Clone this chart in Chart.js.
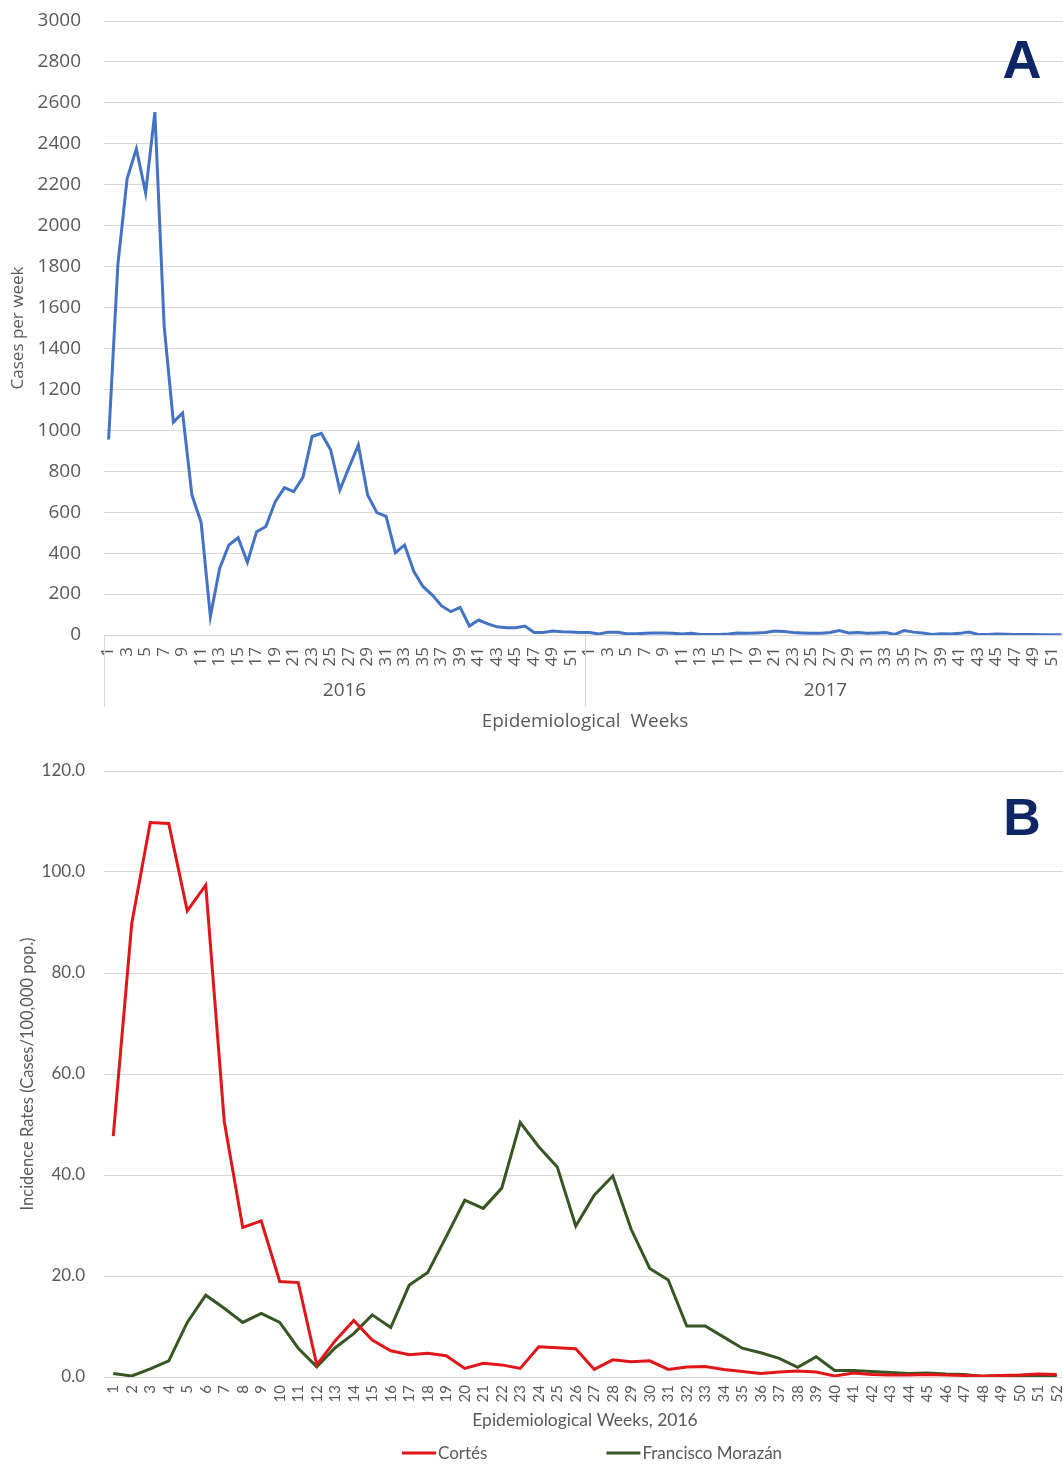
<!DOCTYPE html>
<html>
<head>
<meta charset="utf-8">
<title>Weekly cases and incidence rates</title>
<script src="https://cdn.jsdelivr.net/npm/chart.js@4.4.1/dist/chart.umd.min.js"></script>
<style>
  html, body { margin: 0; padding: 0; background: #ffffff; overflow: hidden; }
  #wrap { width: 1063px; height: 1464px; overflow: hidden; position: relative; }
  canvas { display: block; }
</style>
</head>
<body>
<div id="wrap">
  <canvas id="chartA" width="1090" height="740"></canvas>
  <canvas id="chartB" width="1090" height="724"></canvas>
</div>
<script>
// ---- Data -------------------------------------------------------------
const YEARS = ['2016', '2017'];
const WEEKS = [1, 2, 3, 4, 5, 6, 7, 8, 9, 10, 11, 12, 13, 14, 15, 16, 17, 18, 19, 20,
  21, 22, 23, 24, 25, 26, 27, 28, 29, 30, 31, 32, 33, 34, 35, 36, 37, 38, 39, 40,
  41, 42, 43, 44, 45, 46, 47, 48, 49, 50, 51, 52];

// Panel A: national cases per epidemiological week
const CASES_2016 = [955, 1810, 2230, 2375, 2160, 2555, 1510, 1040, 1085, 685,
  550, 90, 325, 440, 475, 355, 505, 530, 650, 720,
  700, 770, 970, 985, 905, 708, 820, 928, 684, 598,
  580, 402, 440, 310, 236, 195, 142, 114, 135, 44,
  73, 54, 40, 35, 35, 44, 12, 12, 20, 16,
  15, 12];
const CASES_2017 = [12, 5, 14, 13, 6, 6, 8, 10, 10, 8,
  5, 8, 2, 2, 2, 5, 10, 8, 10, 12,
  20, 17, 12, 10, 8, 8, 12, 22, 10, 12,
  8, 10, 12, 3, 22, 14, 10, 3, 6, 5,
  8, 14, 3, 3, 5, 4, 2, 2, 2, 1,
  1, 1];

// Panel B: incidence rates per 100,000 population, 2016
const CORTES = [47.7, 89.8, 109.8, 109.6, 92.3, 97.4, 50.6, 29.6, 30.9, 18.9,
  18.7, 2.4, 7.2, 11.2, 7.3, 5.2, 4.4, 4.7, 4.2, 1.7,
  2.7, 2.4, 1.7, 6.0, 5.8, 5.6, 1.5, 3.4, 3.0, 3.2,
  1.5, 2.0, 2.1, 1.5, 1.1, 0.7, 1.0, 1.2, 1.0, 0.2,
  0.8, 0.5, 0.4, 0.4, 0.5, 0.4, 0.3, 0.2, 0.3, 0.4,
  0.6, 0.5];
const FRANCISCO_MORAZAN = [0.7, 0.2, 1.6, 3.2, 10.8, 16.2, 13.6, 10.8, 12.6, 10.8,
  5.7, 2.0, 5.8, 8.6, 12.3, 9.8, 18.2, 20.7, 27.8, 35.0,
  33.4, 37.4, 50.4, 45.6, 41.6, 29.9, 36.0, 39.8, 29.2, 21.5,
  19.2, 10.1, 10.1, 7.9, 5.7, 4.8, 3.7, 1.9, 4.0, 1.3,
  1.3, 1.1, 0.9, 0.7, 0.8, 0.6, 0.5, 0.1, 0.3, 0.2,
  0.2, 0.2];

// ---- Styling ----------------------------------------------------------
const TEXT = '#595959';
const GRID = '#d9d9d9';
const NAVY = '#0d2665';
const CLEAR = 'rgba(0,0,0,0)';

// ---- Plugins ----------------------------------------------------------
// Year bands under the week axis (label + separators)
const yearBands = {
  id: 'yearBands',
  afterDraw(chart) {
    const { ctx, chartArea, scales: { x } } = chart;
    const half = (x.getPixelForValue(1) - x.getPixelForValue(0)) / 2;
    ctx.save();
    ctx.strokeStyle = GRID;
    ctx.lineWidth = 1;
    ctx.fillStyle = TEXT;
    ctx.font = '19px "Open Sans", sans-serif';
    ctx.textAlign = 'center';
    ctx.textBaseline = 'middle';
    YEARS.forEach((yr, i) => {
      const first = x.getPixelForValue(i * WEEKS.length) - half;
      const last = x.getPixelForValue((i + 1) * WEEKS.length - 1) + half;
      [first, last].forEach(px => {
        const p = Math.round(px) + 0.5;
        ctx.beginPath();
        ctx.moveTo(p, chartArea.bottom);
        ctx.lineTo(p, chartArea.bottom + 72);
        ctx.stroke();
      });
      ctx.fillText(yr, (first + last) / 2, chartArea.bottom + 56);
    });
    ctx.restore();
  }
};

// Bold panel letter in the top-right corner
const panelLetter = {
  id: 'panelLetter',
  afterDraw(chart, args, opts) {
    const ctx = chart.ctx;
    ctx.save();
    ctx.font = 'bold ' + opts.size + 'px "Liberation Sans", Arial, sans-serif';
    ctx.fillStyle = NAVY;
    ctx.textAlign = 'center';
    ctx.textBaseline = 'alphabetic';
    ctx.fillText(opts.text, opts.x, opts.y);
    ctx.restore();
  }
};

// Line-sample legend drawn from the datasets
const lineLegend = {
  id: 'lineLegend',
  afterDraw(chart, args, opts) {
    const ctx = chart.ctx;
    ctx.save();
    ctx.font = '17px Lato, sans-serif';
    const sample = 34, gap = 2;
    let x = opts.left;
    const y = opts.y;
    chart.data.datasets.forEach(ds => {
      ctx.strokeStyle = ds.borderColor;
      ctx.lineWidth = ds.borderWidth;
      ctx.beginPath();
      ctx.moveTo(x, y);
      ctx.lineTo(x + sample, y);
      ctx.stroke();
      ctx.fillStyle = TEXT;
      ctx.textAlign = 'left';
      ctx.textBaseline = 'middle';
      ctx.fillText(ds.label, x + sample + gap, y + 1);
      x += sample + gap + ctx.measureText(ds.label).width + opts.between;
    });
    ctx.restore();
  }
};

// ---- Panel A ----------------------------------------------------------
const labelsA = [];
YEARS.forEach(() => WEEKS.forEach(w => labelsA.push(String(w))));
const casesA = CASES_2016.concat(CASES_2017);

new Chart(document.getElementById('chartA'), {
  type: 'line',
  data: {
    labels: labelsA,
    datasets: [{
      label: 'Cases per week',
      data: casesA,
      borderColor: '#4472c4',
      borderWidth: 3,
      pointRadius: 0,
      tension: 0,
      fill: false
    }]
  },
  options: {
    responsive: false,
    animation: false,
    layout: { padding: { top: 21, right: 24, bottom: 0, left: 0 } },
    plugins: {
      legend: { display: false },
      tooltip: { enabled: false },
      panelLetter: { text: 'A', x: 1022, y: 78, size: 54 }
    },
    scales: {
      x: {
        type: 'category',
        offset: true,
        grid: { display: true, color: CLEAR, drawTicks: true, tickLength: 12, tickColor: CLEAR },
        border: { display: true, color: GRID, width: 1 },
        ticks: {
          autoSkip: false,
          minRotation: 90,
          maxRotation: 90,
          padding: 0,
          color: TEXT,
          font: { family: '"Open Sans", sans-serif', size: 17 },
          callback(value) {
            const w = Number(this.getLabelForValue(value));
            return w % 2 === 1 ? String(w) : '';
          }
        },
        title: {
          display: true,
          text: 'Epidemiological  Weeks',
          color: TEXT,
          font: { family: '"Open Sans", sans-serif', size: 19 },
          padding: { top: 0, bottom: 7 }
        },
        afterFit(scale) { scale.height = 105; }
      },
      y: {
        min: 0,
        max: 3000,
        grid: { color: GRID, drawTicks: true, tickLength: 23, tickColor: CLEAR },
        border: { display: false },
        ticks: {
          stepSize: 200,
          padding: 0,
          color: TEXT,
          font: { family: '"Open Sans", sans-serif', size: 19 },
          callback(value) { return String(value); }
        },
        title: {
          display: true,
          text: 'Cases per week',
          color: TEXT,
          font: { family: '"Open Sans", sans-serif', size: 17 },
          padding: { top: 8, bottom: 0 }
        },
        afterFit(scale) { scale.width = 104; }
      }
    }
  },
  plugins: [yearBands, panelLetter]
});

// ---- Panel B ----------------------------------------------------------
new Chart(document.getElementById('chartB'), {
  type: 'line',
  data: {
    labels: WEEKS.map(String),
    datasets: [{
      label: 'Cortés',
      data: CORTES,
      borderColor: '#e0161b',
      borderWidth: 3,
      pointRadius: 0,
      tension: 0,
      fill: false
    }, {
      label: 'Francisco Morazán',
      data: FRANCISCO_MORAZAN,
      borderColor: '#375623',
      borderWidth: 3,
      pointRadius: 0,
      tension: 0,
      fill: false
    }]
  },
  options: {
    responsive: false,
    animation: false,
    layout: { padding: { top: 31, right: 24, bottom: 31, left: 0 } },
    plugins: {
      legend: { display: false },
      tooltip: { enabled: false },
      panelLetter: { text: 'B', x: 1022, y: 95, size: 52 },
      lineLegend: { left: 402, y: 713, between: 119 }
    },
    scales: {
      x: {
        type: 'category',
        offset: true,
        grid: { display: true, color: CLEAR, drawTicks: true, tickLength: 8, tickColor: CLEAR },
        border: { display: true, color: GRID, width: 1 },
        ticks: {
          autoSkip: false,
          minRotation: 90,
          maxRotation: 90,
          padding: 0,
          color: TEXT,
          font: { family: 'Lato, sans-serif', size: 15 }
        },
        title: {
          display: true,
          text: 'Epidemiological Weeks, 2016',
          color: TEXT,
          font: { family: 'Lato, sans-serif', size: 17.5 },
          padding: { top: 0, bottom: 2 }
        },
        afterFit(scale) { scale.height = 56; }
      },
      y: {
        min: 0,
        max: 120,
        grid: { color: GRID, drawTicks: true, tickLength: 19, tickColor: CLEAR },
        border: { display: false },
        ticks: {
          stepSize: 20,
          padding: 0,
          color: TEXT,
          font: { family: 'Lato, sans-serif', size: 17 },
          callback(value) { return Number(value).toFixed(1); }
        },
        title: {
          display: true,
          text: 'Incidence Rates (Cases/100,000 pop.)',
          color: TEXT,
          font: { family: 'Lato, sans-serif', size: 16.5 },
          padding: { top: 18, bottom: 0 }
        },
        afterFit(scale) { scale.width = 104; }
      }
    }
  },
  plugins: [panelLetter, lineLegend]
});
</script>
</body>
</html>
